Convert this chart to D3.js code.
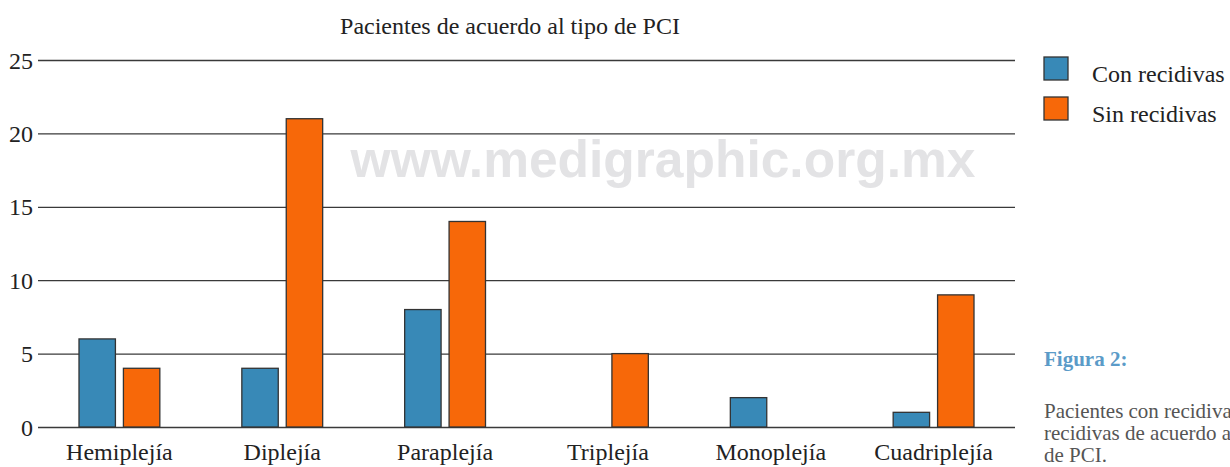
<!DOCTYPE html>
<html>
<head>
<meta charset="utf-8">
<script src="https://cdn.jsdelivr.net/npm/d3@7"></script>
<style>
  body { margin: 0; background: #fff; overflow: hidden; }
  text { font-family: "Liberation Serif", "Times New Roman", serif; }
</style>
</head>
<body>
<div id="wrapper"></div>
<script>
const categories = ['Hemiplejía', 'Diplejía', 'Paraplejía', 'Triplejía', 'Monoplejía', 'Cuadriplejía']
const series = ['Con recidivas', 'Sin recidivas']
const conRecidivas = [6, 4, 8, 0, 2, 1]
const sinRecidivas = [4, 21, 14, 5, 0, 9]
const yTicks = [0, 5, 10, 15, 20, 25]
const colors = ['#3889b7', '#f76809']
const title = 'Pacientes de acuerdo al tipo de PCI'
const captionTitle = 'Figura 2:'
const captionLines = ['Pacientes con recidivas y sin', 'recidivas de acuerdo al tipo', 'de PCI.']

function drawBarChart() {
  const dataset = categories.map((c, i) => ({
    category: c,
    values: [conRecidivas[i], sinRecidivas[i]],
  }))

  const dimensions = {
    width: 1230,
    height: 467,
    margin: { top: 60, right: 215, bottom: 40, left: 38 },
  }
  dimensions.boundedWidth = dimensions.width - dimensions.margin.left - dimensions.margin.right
  dimensions.boundedHeight = dimensions.height - dimensions.margin.top - dimensions.margin.bottom

  const wrapper = d3
    .select('#wrapper')
    .append('svg')
    .attr('width', dimensions.width)
    .attr('height', dimensions.height)

  // watermark
  wrapper
    .append('text')
    .attr('x', 663)
    .attr('y', 177)
    .attr('text-anchor', 'middle')
    .style('font-family', '"Liberation Sans", Arial, sans-serif')
    .style('font-weight', 'bold')
    .style('font-size', '51.5px')
    .style('fill', '#e3e3e5')
    .text('www.medigraphic.org.mx')

  const bounds = wrapper
    .append('g')
    .attr('transform', `translate(${dimensions.margin.left}, ${dimensions.margin.top})`)

  // scales
  const x0 = d3.scaleBand().domain(categories).range([0, dimensions.boundedWidth])
  const x1 = d3
    .scaleBand()
    .domain(series)
    .range([41, x0.bandwidth() - 41])
    .paddingInner(0.18)
  const yScale = d3.scaleLinear().domain([0, 25]).range([dimensions.boundedHeight, 0])

  // gridlines
  const yAxisGenerator = d3
    .axisLeft(yScale)
    .tickValues(yTicks)
    .tickSize(-dimensions.boundedWidth)
    .tickPadding(5)
  const yAxis = bounds.append('g').call(yAxisGenerator)
  yAxis.select('.domain').remove()
  yAxis.selectAll('line').attr('stroke', '#3a3a3a').attr('stroke-width', 1.3)
  yAxis
    .selectAll('text')
    .style('font-family', '"Liberation Serif", serif')
    .style('font-size', '24px')
    .attr('fill', '#222')
    .attr('dy', '0.34em')

  // bars
  const groups = bounds
    .selectAll('.group')
    .data(dataset)
    .join('g')
    .attr('class', 'group')
    .attr('transform', (d) => `translate(${x0(d.category)}, 0)`)

  groups
    .selectAll('rect')
    .data((d) => d.values.map((v, i) => ({ series: series[i], value: v, i })).filter((e) => e.value > 0))
    .join('rect')
    .attr('x', (d) => x1(d.series))
    .attr('width', x1.bandwidth())
    .attr('y', (d) => yScale(d.value))
    .attr('height', (d) => yScale(0) - yScale(d.value))
    .attr('fill', (d) => colors[d.i])
    .attr('stroke', '#333')
    .attr('stroke-width', 1.3)

  // x axis labels
  const xAxisGenerator = d3.axisBottom(x0).tickSize(0).tickPadding(16)
  const xAxis = bounds
    .append('g')
    .attr('transform', `translate(0, ${dimensions.boundedHeight})`)
    .call(xAxisGenerator)
  xAxis.select('.domain').remove()
  xAxis
    .selectAll('text')
    .style('font-family', '"Liberation Serif", serif')
    .style('font-size', '24px')
    .attr('fill', '#222')

  // title
  wrapper
    .append('text')
    .attr('x', 510)
    .attr('y', 34)
    .attr('text-anchor', 'middle')
    .style('font-size', '24px')
    .attr('fill', '#222')
    .text(title)

  // legend
  const legend = wrapper
    .append('g')
    .selectAll('g')
    .data(series)
    .join('g')
    .attr('transform', (d, i) => `translate(1044, ${57 + i * 40})`)
  legend
    .append('rect')
    .attr('width', 24)
    .attr('height', 23)
    .attr('fill', (d, i) => colors[i])
    .attr('stroke', '#333')
    .attr('stroke-width', 1.3)
  legend
    .append('text')
    .attr('x', 48)
    .attr('y', 25)
    .style('font-size', '24px')
    .attr('fill', '#222')
    .text((d) => d)

  // caption
  wrapper
    .append('text')
    .attr('x', 1044)
    .attr('y', 366)
    .style('font-size', '21px')
    .style('font-weight', 'bold')
    .attr('fill', '#5b9bc8')
    .text(captionTitle)

  wrapper
    .append('g')
    .selectAll('text')
    .data(captionLines)
    .join('text')
    .attr('x', 1044)
    .attr('y', (d, i) => 418 + i * 22)
    .style('font-size', '21px')
    .attr('fill', '#555')
    .text((d) => d)
}
drawBarChart()
</script>
</body>
</html>
